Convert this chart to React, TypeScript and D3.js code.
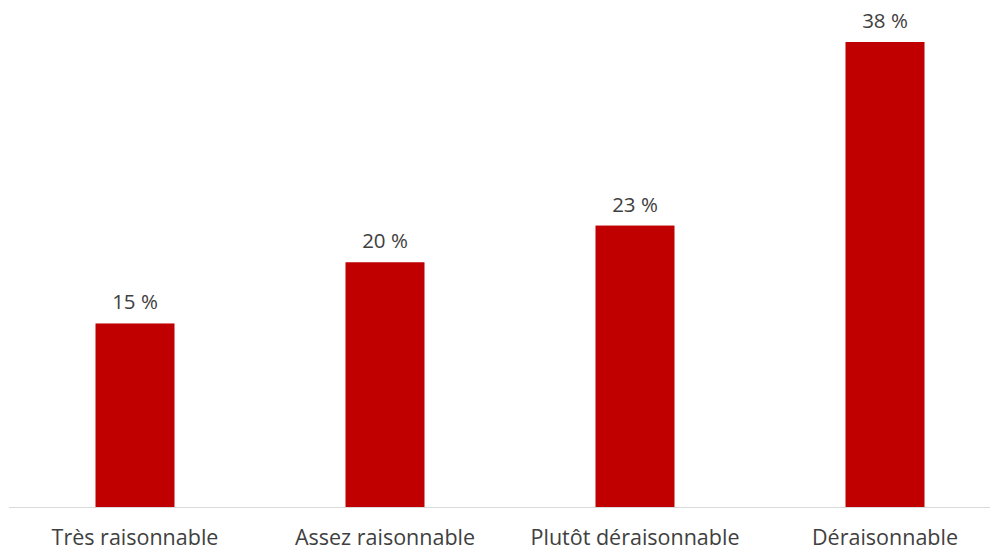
import React from "react";
import * as d3 from "d3";

const categories = ["Très raisonnable", "Assez raisonnable", "Plutôt déraisonnable", "Déraisonnable"];
const values = [15, 20, 23, 38];
const valueLabels = ["15 %", "20 %", "23 %", "38 %"];

export default function App() {
  const W = 998, H = 553;
  const baseY = 507;
  const x = d3.scaleBand<string>().domain(categories).range([10, 1010]).paddingInner(0.684).paddingOuter(0.342);
  const y = d3.scaleLinear().domain([0, 38]).range([baseY, 42]);
  const font = "'Open Sans', 'Noto Sans', sans-serif";
  return (
    <svg width={W} height={H} style={{ position: "absolute", left: 0, top: 0, background: "#fff" }}>
      <line x1={9} x2={990} y1={baseY + 0.5} y2={baseY + 0.5} stroke="#d9d9d9" strokeWidth={1} />
      {categories.map((c, i) => {
        const bx = x(c)!;
        const bw = x.bandwidth();
        return (
          <g key={c}>
            <rect x={bx} y={y(values[i])} width={bw} height={baseY - y(values[i])} fill="#c00000" />
            <text x={bx + bw / 2} y={y(values[i]) - 14} textAnchor="middle" fontFamily={font} fontSize={20.5} fill="#404040">{valueLabels[i]}</text>
            <text x={bx + bw / 2} y={545} textAnchor="middle" fontFamily={font} fontSize={21.5} fill="#404040">{c}</text>
          </g>
        );
      })}
    </svg>
  );
}
